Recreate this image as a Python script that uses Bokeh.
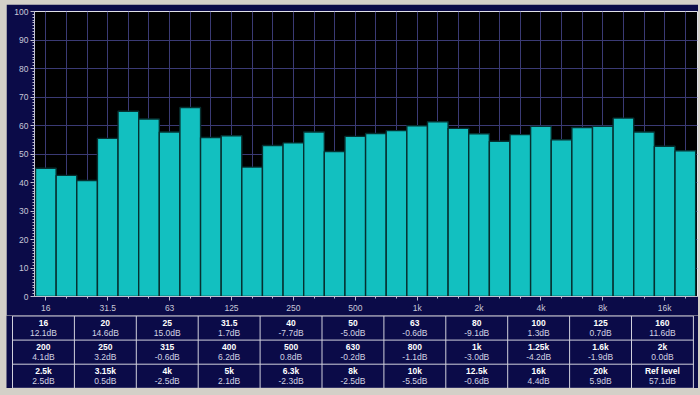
from bokeh.plotting import figure
from bokeh.models import FixedTicker, SingleIntervalTicker, Range1d, Label, ColumnDataSource
from bokeh.layouts import column, row
from bokeh.embed import file_html
from bokeh.resources import INLINE
from bokeh.core.properties import value

# ---------------- data ----------------
bands = ["16", "20", "25", "31.5", "40", "50", "63", "80", "100", "125", "160",
         "200", "250", "315", "400", "500", "630", "800", "1k", "1.25k", "1.6k", "2k",
         "2.5k", "3.15k", "4k", "5k", "6.3k", "8k", "10k", "12.5k", "16k", "20k"]
levels = [45.0, 42.5, 40.7, 55.5, 65.0, 62.3, 57.7, 66.3, 55.8, 56.4, 45.4,
          53.0, 53.9, 57.7, 50.9, 56.2, 57.2, 58.2, 59.9, 61.3, 59.0, 57.1,
          54.5, 56.8, 59.7, 55.0, 59.3, 59.7, 62.6, 57.7, 52.7, 51.1]
x_tick_labels = {0: "16", 3: "31.5", 6: "63", 9: "125", 12: "250", 15: "500",
                 18: "1k", 21: "2k", 24: "4k", 27: "8k", 30: "16k"}
y_ticks = [0, 10, 20, 30, 40, 50, 60, 70, 80, 90, 100]

table_labels = bands + ["Ref level"]
table_values = [12.1, 14.6, 15.0, 1.7, -7.7, -5.0, -0.6, -9.1, 1.3, 0.7, 11.6,
                4.1, 3.2, -0.6, 6.2, 0.8, -0.2, -1.1, -3.0, -4.2, -1.9, 0.0,
                2.5, 0.5, -2.5, 2.1, -2.3, -2.5, -5.5, -0.6, 4.4, 5.9, 57.1]

# ---------------- style ----------------
NAVY = "#0b0b48"
GRID = "#3a3a74"
BAR = "#12c0c0"
TXT = "#c8c8d8"
FONT = "Liberation Sans"
FS = "8.5px"

W = 692
TOP_H = 311
BOT_H = 73

# ---------------- chart ----------------
xs = list(range(len(bands)))
p = figure(width=W, height=TOP_H, output_backend="svg", toolbar_location=None,
           x_range=Range1d(-0.55, 31.59), y_range=Range1d(0, 100),
           min_border_left=28, min_border_right=1, min_border_top=7, min_border_bottom=18)
p.background_fill_color = "black"
p.border_fill_color = NAVY
p.outline_line_color = "#e0e0e8"
p.outline_line_width = 1

p.vbar(x=xs, top=levels, bottom=0, width=1.0, fill_color=BAR,
       line_color="#063030", line_width=1.4)

# axes
p.xaxis.ticker = FixedTicker(ticks=list(x_tick_labels.keys()),
                             minor_ticks=[i for i in xs if i not in x_tick_labels])
p.xaxis.major_label_overrides = x_tick_labels
p.yaxis.ticker = SingleIntervalTicker(interval=10, num_minor_ticks=10)

for ax in (p.xaxis[0], p.yaxis[0]):
    ax.axis_line_color = "#c0c0d0"
    ax.major_tick_line_color = "#c0c0d0"
    ax.minor_tick_line_color = "#c0c0d0"
    ax.major_tick_in = 0
    ax.major_tick_out = 4
    ax.minor_tick_in = 0
    ax.minor_tick_out = 2
    ax.major_label_text_color = TXT
    ax.major_label_text_font = FONT
    ax.major_label_text_font_size = FS
    ax.major_label_standoff = 2

# grids
p.xgrid.ticker = FixedTicker(ticks=xs)
p.xgrid.grid_line_color = GRID
p.ygrid.ticker = FixedTicker(ticks=y_ticks)
p.ygrid.grid_line_color = GRID

p.add_layout(Label(x=-1.18, y=-3.0, text="dB", text_color="white", text_font=FONT,
                   text_font_size=FS, text_font_style="bold",
                   text_align="center", text_baseline="middle"))
p.add_layout(Label(x=28.5, y=-3.0, text="Hz", text_color=TXT, text_font=FONT,
                   text_font_size=FS, text_align="center", text_baseline="middle"))

# ---------------- table ----------------
NCOL, NROW = 11, 3
X0, CW = 6.0, 61.9
Y0, RH = 0.5, 24.1

t = figure(width=W, height=BOT_H, output_backend="svg", toolbar_location=None,
           x_range=Range1d(0, W), y_range=Range1d(BOT_H, 0),
           x_axis_location=None, y_axis_location=None,
           min_border=0, min_border_left=0, min_border_right=0,
           min_border_top=0, min_border_bottom=0)
t.background_fill_color = NAVY
t.border_fill_color = NAVY
t.outline_line_color = None
t.grid.visible = False

# grid lines
hx0, hx1, hy = [], [], []
for r in range(NROW + 1):
    hx0.append(X0); hx1.append(X0 + NCOL * CW); hy.append(Y0 + r * RH)
t.segment(x0=hx0, x1=hx1, y0=hy, y1=hy, line_color="#d0d0dc", line_width=1)
vx, vy0, vy1 = [], [], []
for c in range(NCOL + 1):
    vx.append(X0 + c * CW); vy0.append(Y0); vy1.append(Y0 + NROW * RH)
t.segment(x0=vx, x1=vx, y0=vy0, y1=vy1, line_color="#d0d0dc", line_width=1)

cx, ly, vyy, vals = [], [], [], []
for i, (lab, v) in enumerate(zip(table_labels, table_values)):
    r, c = divmod(i, NCOL)
    cx.append(X0 + (c + 0.5) * CW)
    ly.append(Y0 + r * RH + 7)
    vyy.append(Y0 + r * RH + 17)
    vals.append(f"{v:.1f}dB")

src = ColumnDataSource(dict(x=cx, ly=ly, vy=vyy, lab=table_labels, val=vals))
t.text(x="x", y="ly", text="lab", source=src, text_color="white",
       text_font=value(FONT), text_font_size=value(FS), text_font_style="bold",
       text_align="center", text_baseline="middle")
t.text(x="x", y="vy", text="val", source=src, text_color="#d4d4e4",
       text_font=value(FONT), text_font_size=value(FS),
       text_align="center", text_baseline="middle")

layout = column(p, row(t, spacing=0), spacing=0)

html = file_html(layout, INLINE)
html = html.replace("<head>",
                    "<head><style>body{background:#d4d0c8 !important;padding:4px 0 0 6px !important;}</style>", 1)
open("out.html", "w").write(html)
